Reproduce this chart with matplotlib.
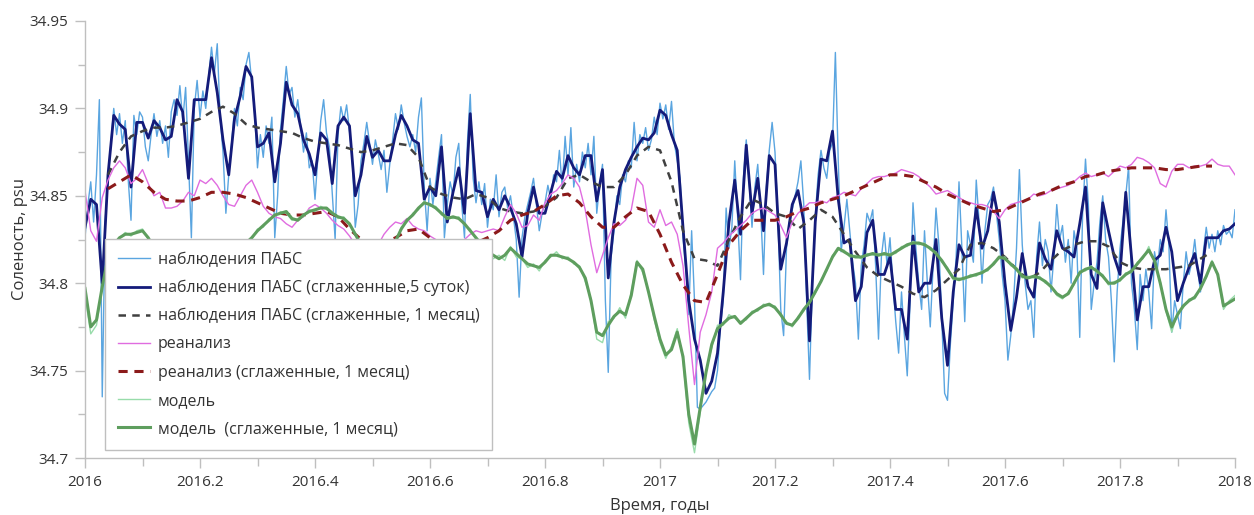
import numpy as np
import matplotlib
matplotlib.use('Agg')
import matplotlib.pyplot as plt
from matplotlib.ticker import MultipleLocator, FuncFormatter

plt.rcParams['font.family'] = ['Open Sans', 'DejaVu Sans']

# ---------------- data (salinity, psu) ----------------
# raw observations, step 0.005 yr
obs_raw = [
 34.826, 34.845, 34.858, 34.835, 34.862, 34.905, 34.735, 34.835, 34.858, 34.880, 34.900, 34.885, 34.897, 34.880, 34.893, 34.860, 34.836, 34.896, 34.885, 34.898,
 34.895, 34.878, 34.870, 34.885, 34.897, 34.884, 34.893, 34.880, 34.890, 34.872, 34.898, 34.905, 34.896, 34.913, 34.893, 34.912, 34.870, 34.826, 34.900, 34.916,
 34.895, 34.910, 34.900, 34.918, 34.935, 34.920, 34.937, 34.895, 34.875, 34.840, 34.862, 34.880, 34.900, 34.890, 34.912, 34.905, 34.925, 34.932, 34.915, 34.898,
 34.866, 34.885, 34.872, 34.890, 34.880, 34.895, 34.826, 34.850, 34.888, 34.905, 34.924, 34.908, 34.912, 34.895, 34.905, 34.890, 34.875, 34.886, 34.866, 34.870,
 34.848, 34.872, 34.893, 34.905, 34.886, 34.878, 34.852, 34.825, 34.885, 34.901, 34.893, 34.902, 34.887, 34.870, 34.832, 34.845, 34.870, 34.880, 34.892, 34.880,
 34.868, 34.882, 34.874, 34.865, 34.876, 34.852, 34.868, 34.882, 34.897, 34.888, 34.902, 34.892, 34.884, 34.878, 34.885, 34.875, 34.895, 34.906, 34.855, 34.830,
 34.860, 34.845, 34.858, 34.872, 34.885, 34.826, 34.845, 34.858, 34.850, 34.872, 34.880, 34.846, 34.826, 34.880, 34.908, 34.860, 34.846, 34.858, 34.845, 34.857,
 34.832, 34.848, 34.842, 34.862, 34.838, 34.852, 34.855, 34.843, 34.850, 34.838, 34.825, 34.792, 34.826, 34.838, 34.845, 34.852, 34.860, 34.845, 34.830, 34.840,
 34.846, 34.856, 34.848, 34.862, 34.858, 34.876, 34.855, 34.884, 34.862, 34.889, 34.855, 34.868, 34.858, 34.875, 34.866, 34.880, 34.862, 34.884, 34.840, 34.856,
 34.868, 34.790, 34.749, 34.815, 34.830, 34.850, 34.845, 34.862, 34.858, 34.870, 34.866, 34.892, 34.870, 34.885, 34.880, 34.889, 34.876, 34.882, 34.895, 34.885,
 34.903, 34.894, 34.902, 34.888, 34.904, 34.880, 34.870, 34.860, 34.826, 34.808, 34.782, 34.830, 34.790, 34.729, 34.728, 34.730, 34.732, 34.735, 34.738, 34.740,
 34.750, 34.775, 34.790, 34.843, 34.820, 34.832, 34.870, 34.838, 34.802, 34.860, 34.882, 34.858, 34.832, 34.855, 34.868, 34.842, 34.805, 34.855, 34.876, 34.892,
 34.875, 34.838, 34.785, 34.770, 34.820, 34.835, 34.842, 34.850, 34.858, 34.870, 34.845, 34.790, 34.745, 34.800, 34.838, 34.862, 34.876, 34.866, 34.860, 34.876,
 34.880, 34.932, 34.870, 34.818, 34.832, 34.848, 34.830, 34.812, 34.800, 34.768, 34.810, 34.822, 34.840, 34.835, 34.842, 34.810, 34.768, 34.815, 34.829, 34.810,
 34.826, 34.800, 34.778, 34.760, 34.795, 34.770, 34.747, 34.790, 34.846, 34.820, 34.800, 34.785, 34.830, 34.800, 34.775, 34.810, 34.843, 34.822, 34.780, 34.737,
 34.733, 34.765, 34.790, 34.815, 34.858, 34.820, 34.778, 34.830, 34.822, 34.812, 34.859, 34.835, 34.800, 34.830, 34.845, 34.848, 34.855, 34.840, 34.825, 34.805,
 34.790, 34.756, 34.770, 34.790, 34.820, 34.865, 34.822, 34.800, 34.785, 34.790, 34.769, 34.815, 34.835, 34.810, 34.825, 34.818, 34.795, 34.815, 34.845, 34.825,
 34.833, 34.812, 34.825, 34.800, 34.830, 34.820, 34.769, 34.840, 34.871, 34.845, 34.785, 34.800, 34.812, 34.835, 34.850, 34.825, 34.815, 34.790, 34.755, 34.795,
 34.820, 34.835, 34.850, 34.867, 34.800, 34.785, 34.762, 34.805, 34.790, 34.808, 34.795, 34.774, 34.818, 34.808, 34.825, 34.818, 34.842, 34.822, 34.772, 34.790,
 34.782, 34.774, 34.800, 34.818, 34.805, 34.812, 34.825, 34.808, 34.795, 34.818, 34.832, 34.820, 34.828, 34.818, 34.830, 34.822, 34.833, 34.828, 34.830, 34.826,
 34.842,
]

# 5-day smoothed observations, step 0.01 yr
obs_5day = [
 34.832, 34.848, 34.845, 34.800, 34.862, 34.896, 34.891, 34.888, 34.855, 34.892, 34.892, 34.883, 34.893, 34.889, 34.882, 34.884, 34.905, 34.898, 34.860, 34.905,
 34.905, 34.905, 34.929, 34.909, 34.882, 34.862, 34.894, 34.907, 34.924, 34.918, 34.878, 34.880, 34.886, 34.858, 34.880, 34.915, 34.902, 34.897, 34.882, 34.874,
 34.862, 34.886, 34.882, 34.857, 34.890, 34.895, 34.890, 34.850, 34.862, 34.884, 34.872, 34.876, 34.870, 34.870, 34.885, 34.896, 34.890, 34.882, 34.880, 34.848,
 34.855, 34.850, 34.878, 34.835, 34.852, 34.866, 34.840, 34.897, 34.853, 34.852, 34.838, 34.848, 34.842, 34.850, 34.843, 34.834, 34.815, 34.840, 34.855, 34.840,
 34.840, 34.852, 34.864, 34.860, 34.873, 34.866, 34.862, 34.873, 34.873, 34.847, 34.865, 34.803, 34.835, 34.855, 34.865, 34.872, 34.878, 34.883, 34.882, 34.886,
 34.899, 34.896, 34.885, 34.876, 34.832, 34.790, 34.768, 34.756, 34.737, 34.744, 34.760, 34.795, 34.835, 34.859, 34.828, 34.879, 34.840, 34.860, 34.830, 34.873,
 34.868, 34.808, 34.823, 34.845, 34.853, 34.835, 34.767, 34.835, 34.871, 34.870, 34.887, 34.848, 34.823, 34.825, 34.790, 34.798, 34.829, 34.836, 34.805, 34.805,
 34.815, 34.785, 34.785, 34.768, 34.827, 34.795, 34.800, 34.800, 34.825, 34.780, 34.753, 34.795, 34.822, 34.815, 34.816, 34.843, 34.820, 34.830, 34.852, 34.835,
 34.800, 34.773, 34.792, 34.817, 34.798, 34.792, 34.823, 34.814, 34.808, 34.830, 34.820, 34.818, 34.815, 34.834, 34.855, 34.805, 34.797, 34.846, 34.830, 34.815,
 34.805, 34.852, 34.815, 34.779, 34.798, 34.798, 34.813, 34.816, 34.832, 34.818, 34.790, 34.800, 34.809, 34.817, 34.800, 34.826, 34.826, 34.826, 34.830, 34.831,
 34.834,
]

# 1-month smoothed observations, step 0.02 yr from 2016.04 to 2017.96
obs_month = [
 34.862, 34.875, 34.884, 34.887, 34.889, 34.889, 34.890, 34.892, 34.894, 34.898,
 34.901, 34.897, 34.891, 34.889, 34.888, 34.887, 34.886, 34.883, 34.881, 34.880,
 34.879, 34.877, 34.875, 34.876, 34.878, 34.880, 34.879, 34.872, 34.855, 34.851,
 34.849, 34.848, 34.851, 34.849, 34.843, 34.841, 34.840, 34.841, 34.844, 34.849,
 34.860, 34.862, 34.858, 34.855, 34.855, 34.862, 34.873, 34.878, 34.876, 34.858,
 34.830, 34.814, 34.813, 34.810, 34.825, 34.838, 34.848, 34.845, 34.840, 34.838,
 34.831, 34.836, 34.842, 34.838, 34.828, 34.818, 34.809, 34.804, 34.801, 34.798,
 34.794, 34.792, 34.796, 34.802, 34.808, 34.822, 34.823, 34.820, 34.815, 34.808,
 34.802, 34.806, 34.813, 34.819, 34.822, 34.824, 34.824, 34.821, 34.812, 34.809,
 34.808, 34.808, 34.808, 34.809, 34.810, 34.814, 34.818,
]

# reanalysis, step 0.01 yr
rean = [
 34.853, 34.830, 34.824, 34.849, 34.859, 34.866, 34.870, 34.866, 34.857, 34.860, 34.865, 34.857, 34.850, 34.852, 34.843, 34.843, 34.844, 34.847, 34.852, 34.850,
 34.859, 34.857, 34.860, 34.856, 34.850, 34.845, 34.844, 34.850, 34.856, 34.859, 34.852, 34.844, 34.840, 34.838, 34.837, 34.834, 34.832, 34.836, 34.838, 34.843,
 34.845, 34.843, 34.840, 34.836, 34.833, 34.831, 34.827, 34.822, 34.820, 34.818, 34.818, 34.822, 34.828, 34.832, 34.835, 34.834, 34.837, 34.833, 34.831, 34.830,
 34.827, 34.825, 34.823, 34.822, 34.822, 34.823, 34.825, 34.828, 34.830, 34.829, 34.830, 34.831, 34.830, 34.838, 34.845, 34.840, 34.832, 34.833, 34.839, 34.836,
 34.846, 34.851, 34.853, 34.857, 34.862, 34.860, 34.855, 34.842, 34.822, 34.806, 34.816, 34.826, 34.834, 34.833, 34.836, 34.842, 34.860, 34.856, 34.835, 34.832,
 34.842, 34.833, 34.835, 34.828, 34.810, 34.775, 34.742, 34.772, 34.782, 34.795, 34.820, 34.823, 34.827, 34.830, 34.833, 34.836, 34.840, 34.842, 34.843, 34.841,
 34.839, 34.833, 34.826, 34.835, 34.840, 34.843, 34.846, 34.846, 34.847, 34.846, 34.849, 34.850, 34.852, 34.851, 34.850, 34.854, 34.857, 34.860, 34.861, 34.861,
 34.862, 34.863, 34.865, 34.864, 34.863, 34.861, 34.858, 34.855, 34.851, 34.852, 34.853, 34.851, 34.849, 34.847, 34.846, 34.845, 34.845, 34.844, 34.841, 34.837,
 34.842, 34.845, 34.846, 34.847, 34.848, 34.851, 34.850, 34.851, 34.853, 34.854, 34.855, 34.856, 34.858, 34.861, 34.863, 34.861, 34.862, 34.863, 34.861, 34.864,
 34.867, 34.866, 34.868, 34.872, 34.871, 34.869, 34.866, 34.857, 34.855, 34.864, 34.868, 34.868, 34.866, 34.867, 34.867, 34.868, 34.871, 34.868, 34.867, 34.867,
 34.862,
]

# reanalysis 1-month smoothed, step 0.02 yr from 2016.04 to 2017.96
rean_month = [
 34.854, 34.858, 34.862, 34.858, 34.852, 34.848, 34.847, 34.847, 34.849, 34.852,
 34.852, 34.851, 34.849, 34.846, 34.843, 34.840, 34.839, 34.839, 34.840, 34.841,
 34.838, 34.831, 34.825, 34.821, 34.823, 34.826, 34.830, 34.831, 34.826, 34.822,
 34.820, 34.821, 34.823, 34.826, 34.830, 34.836, 34.839, 34.841, 34.845, 34.850,
 34.851, 34.846, 34.838, 34.832, 34.832, 34.838, 34.843, 34.841, 34.828, 34.812,
 34.799, 34.790, 34.789, 34.805, 34.822, 34.830, 34.836, 34.836, 34.836, 34.838,
 34.841, 34.843, 34.846, 34.848, 34.850, 34.853, 34.856, 34.859, 34.862, 34.862,
 34.861, 34.858, 34.855, 34.851, 34.848, 34.845, 34.843, 34.841, 34.842, 34.845,
 34.848, 34.851, 34.853, 34.856, 34.858, 34.861, 34.862, 34.864, 34.865, 34.866,
 34.866, 34.866, 34.865, 34.865, 34.866, 34.867, 34.867,
]

# model, step 0.01 yr
model = [
 34.793, 34.771, 34.776, 34.797, 34.814, 34.823, 34.826, 34.829, 34.827, 34.830, 34.831, 34.825, 34.821, 34.815, 34.813, 34.807, 34.806, 34.804, 34.807, 34.808,
 34.811, 34.811, 34.815, 34.815, 34.818, 34.817, 34.819, 34.820, 34.824, 34.825, 34.831, 34.832, 34.837, 34.838, 34.841, 34.840, 34.836, 34.837, 34.838, 34.842,
 34.841, 34.844, 34.842, 34.841, 34.837, 34.838, 34.833, 34.829, 34.821, 34.819, 34.814, 34.815, 34.814, 34.819, 34.823, 34.832, 34.835, 34.840, 34.842, 34.847,
 34.844, 34.844, 34.839, 34.838, 34.837, 34.838, 34.833, 34.831, 34.825, 34.823, 34.817, 34.814, 34.816, 34.813, 34.821, 34.815, 34.814, 34.809, 34.811, 34.807,
 34.813, 34.815, 34.818, 34.814, 34.815, 34.811, 34.810, 34.801, 34.791, 34.768, 34.766, 34.778, 34.780, 34.786, 34.780, 34.795, 34.813, 34.806, 34.796, 34.779,
 34.766, 34.757, 34.764, 34.774, 34.756, 34.720, 34.703, 34.726, 34.750, 34.763, 34.776, 34.776, 34.782, 34.780, 34.778, 34.779, 34.784, 34.784, 34.788, 34.787,
 34.787, 34.781, 34.778, 34.775, 34.781, 34.784, 34.790, 34.794, 34.802, 34.807, 34.816, 34.819, 34.819, 34.815, 34.816, 34.814, 34.817, 34.816, 34.817, 34.816,
 34.817, 34.817, 34.821, 34.821, 34.824, 34.822, 34.823, 34.819, 34.818, 34.812, 34.809, 34.802, 34.803, 34.802, 34.805, 34.804, 34.807, 34.807, 34.812, 34.814,
 34.815, 34.810, 34.809, 34.803, 34.804, 34.803, 34.804, 34.800, 34.799, 34.793, 34.791, 34.795, 34.799, 34.807, 34.807, 34.810, 34.806, 34.805, 34.799, 34.801,
 34.801, 34.806, 34.806, 34.812, 34.814, 34.821, 34.812, 34.801, 34.784, 34.772, 34.783, 34.786, 34.791, 34.791, 34.798, 34.803, 34.813, 34.804, 34.785, 34.790,
 34.793,
]

# model 1-month smoothed, step 0.01 yr
model_month = [
 34.797, 34.775, 34.779, 34.798, 34.815, 34.822, 34.826, 34.828, 34.828, 34.829, 34.830, 34.826, 34.820, 34.816, 34.812, 34.808, 34.806, 34.805, 34.806, 34.808,
 34.810, 34.812, 34.814, 34.816, 34.817, 34.818, 34.818, 34.820, 34.823, 34.826, 34.830, 34.833, 34.836, 34.839, 34.840, 34.841, 34.837, 34.836, 34.839, 34.841,
 34.842, 34.843, 34.843, 34.840, 34.838, 34.837, 34.834, 34.828, 34.822, 34.818, 34.815, 34.814, 34.815, 34.818, 34.824, 34.831, 34.836, 34.839, 34.843, 34.846,
 34.845, 34.843, 34.840, 34.837, 34.838, 34.837, 34.834, 34.830, 34.826, 34.822, 34.818, 34.816, 34.814, 34.816, 34.820, 34.817, 34.814, 34.811, 34.810, 34.809,
 34.812, 34.816, 34.816, 34.815, 34.814, 34.812, 34.809, 34.803, 34.790, 34.772, 34.770, 34.776, 34.781, 34.784, 34.782, 34.793, 34.812, 34.808, 34.795, 34.781,
 34.768, 34.759, 34.762, 34.772, 34.758, 34.725, 34.708, 34.729, 34.749, 34.765, 34.774, 34.777, 34.780, 34.781, 34.777, 34.780, 34.783, 34.785, 34.787, 34.788,
 34.786, 34.782, 34.777, 34.776, 34.780, 34.785, 34.789, 34.795, 34.801, 34.808, 34.815, 34.820, 34.818, 34.816, 34.815, 34.815, 34.816, 34.817, 34.816, 34.817,
 34.816, 34.818, 34.820, 34.822, 34.823, 34.823, 34.822, 34.820, 34.817, 34.813, 34.808, 34.803, 34.802, 34.803, 34.804, 34.805, 34.806, 34.808, 34.811, 34.815,
 34.814, 34.811, 34.808, 34.804, 34.803, 34.804, 34.803, 34.801, 34.798, 34.794, 34.792, 34.794, 34.800, 34.806, 34.808, 34.809, 34.807, 34.804, 34.800, 34.800,
 34.802, 34.805, 34.807, 34.811, 34.815, 34.819, 34.813, 34.800, 34.785, 34.775, 34.782, 34.787, 34.790, 34.792, 34.797, 34.804, 34.812, 34.805, 34.787, 34.789,
 34.791,
]

labels = [
    'наблюдения ПАБС',
    'наблюдения ПАБС (сглаженные,5 суток)',
    'наблюдения ПАБС (сглаженные, 1 месяц)',
    'реанализ',
    'реанализ (сглаженные, 1 месяц)',
    'модель',
    'модель  (сглаженные, 1 месяц)',
]

t_raw = np.linspace(2016.0, 2018.0, len(obs_raw))
t_5d = np.linspace(2016.0, 2018.0, len(obs_5day))
t_mon = np.linspace(2016.04, 2017.96, len(obs_month))
t_rean_mon = np.linspace(2016.04, 2017.96, len(rean_month))

# ---------------- figure ----------------
W, H = 1254, 515
fig = plt.figure(figsize=(W / 100, H / 100), dpi=100)
ax = fig.add_axes([85 / W, 1 - 458 / H, 1150 / W, 437 / H])

ax.plot(t_raw, obs_raw, color='#5aa5e0', lw=1.0, label=labels[0])
ax.plot(t_5d, obs_5day, color='#141b7a', lw=2.0, label=labels[1])
ax.plot(t_mon, obs_month, color='#404040', lw=1.8, dashes=(3, 2.5), label=labels[2])
ax.plot(np.linspace(2016.0, 2018.0, len(rean)), rean, color='#e06ce0', lw=1.0, label=labels[3])
ax.plot(t_rean_mon, rean_month, color='#8b1a1a', lw=2.2, dashes=(3, 2.2), label=labels[4])
ax.plot(np.linspace(2016.0, 2018.0, len(model)), model, color='#98dcaa', lw=1.0, label=labels[5])
ax.plot(np.linspace(2016.0, 2018.0, len(model_month)), model_month, color='#5e9e5e', lw=2.2, label=labels[6])

ax.set_xlim(2016.0, 2018.0)
ax.set_ylim(34.7, 34.95)
ax.xaxis.set_major_locator(MultipleLocator(0.2))
ax.xaxis.set_minor_locator(MultipleLocator(0.1))
ax.yaxis.set_major_locator(MultipleLocator(0.05))
ax.yaxis.set_minor_locator(MultipleLocator(0.025))
fmt = FuncFormatter(lambda v, p: f'{v:g}')
ax.xaxis.set_major_formatter(fmt)
ax.yaxis.set_major_formatter(fmt)

for s in ['top', 'right']:
    ax.spines[s].set_visible(False)
for s in ['left', 'bottom']:
    ax.spines[s].set_color('#bfbfbf')
    ax.spines[s].set_linewidth(1.0)

ax.tick_params(axis='both', which='major', direction='out', length=7, width=1,
               color='#bfbfbf', labelcolor='#333333', labelsize=11, pad=5)
ax.tick_params(axis='both', which='minor', direction='out', length=6, width=1, color='#bfbfbf')
ax.tick_params(axis='y', which='minor', length=5)

ax.set_ylabel('Соленость, psu', fontsize=12, color='#333333', labelpad=1)
ax.set_xlabel('Время, годы', fontsize=12, color='#333333', labelpad=6)

leg = ax.legend(loc='lower left', bbox_to_anchor=(20 / 1150, 8 / 437, 387 / 1150, 210 / 437),
                mode='expand', fontsize=11.5, frameon=True, fancybox=False,
                edgecolor='#bfbfbf', framealpha=1, handlelength=2.0, handletextpad=0.5,
                labelspacing=0.76, borderpad=0.82, borderaxespad=0)
leg.get_frame().set_linewidth(1.0)
for txt in leg.get_texts():
    txt.set_color('#333333')

fig.savefig('out.png', dpi=100)
